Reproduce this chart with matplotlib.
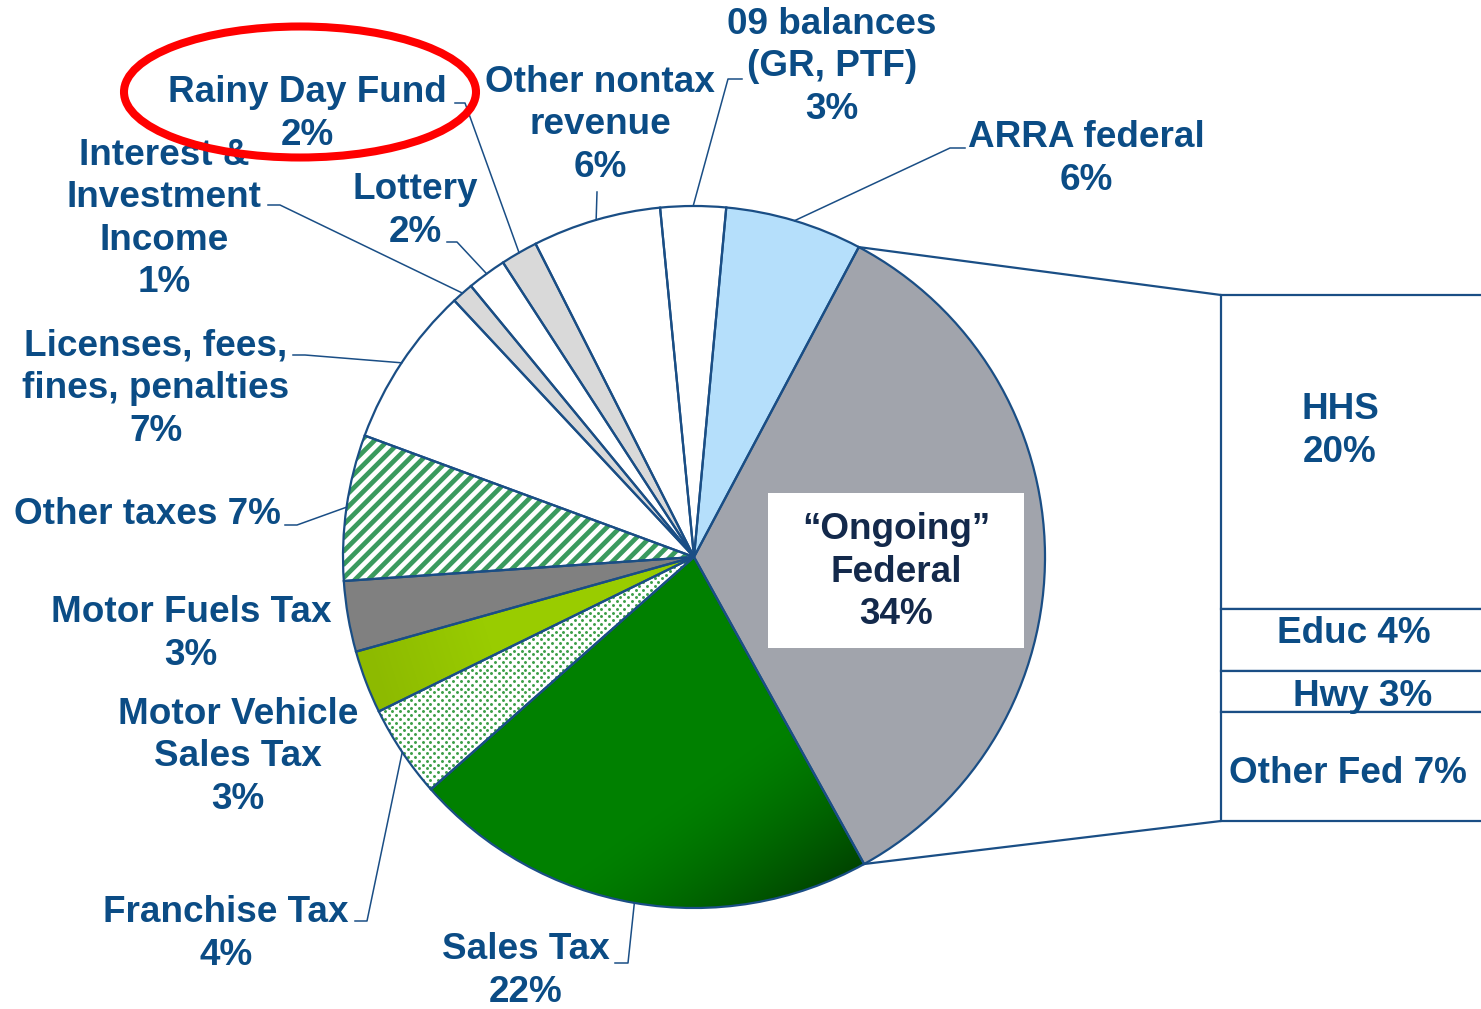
import numpy as np
import matplotlib.pyplot as plt
from matplotlib.patches import Ellipse, Rectangle
from matplotlib.collections import LineCollection
from matplotlib.colors import to_rgb

plt.rcParams['font.family'] = ['Liberation Sans', 'DejaVu Sans']
plt.rcParams['font.weight'] = 'bold'

# revenue sources (percent of total), clockwise from "Ongoing" Federal
sources = ['\u201cOngoing\u201d\nFederal', 'Sales Tax', 'Franchise Tax', 'Motor Vehicle\nSales Tax',
           'Motor Fuels Tax', 'Other taxes', 'Licenses, fees,\nfines, penalties',
           'Interest &\nInvestment\nIncome', 'Lottery', 'Rainy Day Fund', 'Other nontax\nrevenue',
           '09 balances\n(GR, PTF)', 'ARRA federal']
shares = [34.1, 21.5, 4.25, 2.9, 3.25, 6.7, 7.4, 1.0, 1.8, 1.7, 5.9, 3.0, 6.3]

# breakdown of the ongoing federal slice
fed_parts = ['HHS', 'Educ', 'Hwy', 'Other Fed']
fed_shares = [20.3, 4.0, 2.65, 7.05]

TEXT = '#0B4C85'
EDGE = '#1A4E85'
FS = 26.6
LS = 1.28
colors = ['#A1A4AC', '#008000', 'white', '#99CC00', '#808080', 'white', 'white',
          '#D9D9D9', 'white', '#D9D9D9', 'white', 'white', '#B5DFFB']

CX, CY, R = 694, 557, 351
W, H = 1481, 1009

fig = plt.figure(figsize=(W / 100, H / 100), dpi=100)
ax = fig.add_axes([0, 0, 1, 1])

wedges, _ = ax.pie(shares, colors=colors, center=(CX, CY), radius=R, startangle=-62.0,
                   counterclock=True, wedgeprops=dict(linewidth=0, zorder=1))


def shade(w, c0, c1, direction, s0, s1, power=1.3):
    yy, xx = np.mgrid[CY - R:CY + R:1.0, CX - R:CX + R:1.0]
    s = (xx - CX) * direction[0] + (yy - CY) * direction[1]
    t = np.clip((s - s0) / (s1 - s0), 0, 1)[..., None] ** power
    img = np.array(to_rgb(c0)) * (1 - t) + np.array(to_rgb(c1)) * t
    im = ax.imshow(img, extent=(CX - R, CX + R, CY + R, CY - R), origin='upper',
                   interpolation='bilinear', aspect='auto', zorder=1.5)
    im.set_clip_path(w)


# sales tax: dark toward the lower right
shade(wedges[1], '#008000', '#004000', (0.57, 0.82), 190, 355, power=1.4)
# motor vehicle: slightly darker on the outside
shade(wedges[3], '#99CC00', '#8DBA00', (-0.95, 0.3), 220, 340, power=1.0)

# other taxes: green diagonal stripes
period = 13.3
segs = []
for c in np.arange(CX + CY - 2 * R, CX + CY + 2 * R, period):
    segs.append([(CX - R, c - (CX - R)), (CX + R, c - (CX + R))])
stripes = LineCollection(segs, colors='#3A9A5E', linewidths=3.4, zorder=1.6)
ax.add_collection(stripes)
stripes.set_clip_path(wedges[5])

# franchise tax: green dots
gx, gy = [], []
for j, y in enumerate(np.arange(CY - R, CY + R, 3.8)):
    xs = np.arange(CX - R + (j % 2) * 3.8, CX + R, 7.6)
    gx.extend(xs)
    gy.extend([y] * len(xs))
dots = ax.scatter(gx, gy, s=4.5, c='#3C9F48', linewidths=0, zorder=1.6)
dots.set_clip_path(wedges[2])

# slice outlines on top
ax.pie(shares, center=(CX, CY), radius=R, startangle=-62.0, counterclock=True,
       wedgeprops=dict(fill=False, edgecolor=EDGE, linewidth=1.6, zorder=2))


def edge_pt(w):
    th = np.deg2rad((w.theta1 + w.theta2) / 2)
    return CX + R * np.cos(th), CY + R * np.sin(th)


# label layout: centre of text block, separator, leader start points
layout = {
    1: ((526, 971), '\n', [(615, 963), (628, 963)]),
    2: ((226, 934), '\n', [(355, 921), (367, 921)]),
    3: ((238, 757), '\n', None),
    4: ((191, 634), '\n', None),
    5: ((147, 514), ' ', [(285, 525), (297, 525)]),
    6: ((156, 389), '\n', [(293, 355), (305, 355)]),
    7: ((164, 219), '\n', [(268, 205), (280, 205)]),
    8: ((415, 211), '\n', [(447, 242), (457, 242)]),
    9: ((307, 114), '\n', [(455, 103), (465, 103)]),
    10: ((600, 125), '\n', [(597, 192)]),
    11: ((832, 67), '\n', [(742, 79), (728, 79)]),
    12: ((1086, 159), '\n', [(965, 148), (950, 148)]),
}
for i, ((tx, ty), sep, lead) in layout.items():
    ax.text(tx, ty, f'{sources[i]}{sep}{round(shares[i])}%', ha='center', va='center',
            fontsize=FS, color=TEXT, linespacing=LS, zorder=4)
    if lead:
        pts = lead + [edge_pt(wedges[i])]
        ax.plot([p[0] for p in pts], [p[1] for p in pts], color=EDGE, lw=1.1, zorder=3)

# federal label box
ax.add_patch(Rectangle((768, 493), 256, 155, facecolor='white', edgecolor='none', zorder=3))
ax.text(896, 572, f'{sources[0]}\n{round(shares[0])}%', ha='center', va='center',
        fontsize=FS, color='#13294B', linespacing=LS, zorder=4)

# bar of pie for the federal slice
BAR_X, BAR_TOP, BAR_H = 1221, 295, 526
scale = BAR_H / sum(fed_shares)
heights = np.array(fed_shares) * scale
bottoms = BAR_TOP + np.concatenate([[0], np.cumsum(heights)[:-1]])
ax.bar(BAR_X, heights, width=330, bottom=bottoms, align='edge', color='white',
       edgecolor=EDGE, linewidth=1.6, zorder=2)
fed_x = [1340, 1354, 1363, 1348]
fed_dy = [-21, -6, 5, 7]
for k in range(len(fed_parts)):
    label = f'{fed_parts[k]}\n{round(fed_shares[k])}%' if k == 0 else f'{fed_parts[k]} {round(fed_shares[k])}%'
    ax.text(fed_x[k], bottoms[k] + heights[k] / 2 + fed_dy[k], label, ha='center', va='center',
            fontsize=FS, color=TEXT, linespacing=LS, zorder=4)

# connectors from the federal slice to the bar
fw = wedges[0]
for th, by in [(fw.theta1, BAR_TOP), (fw.theta2, BAR_TOP + BAR_H)]:
    t = np.deg2rad(th)
    ax.plot([CX + R * np.cos(t), BAR_X], [CY + R * np.sin(t), by], color=EDGE, lw=1.6, zorder=2)

# highlight
ax.add_patch(Ellipse((300, 92), 352, 131, fill=False, edgecolor='#FF0000', lw=5.8, zorder=5))

ax.set_xlim(0, W)
ax.set_ylim(H, 0)
ax.set_aspect('auto')
ax.axis('off')
fig.savefig('out.png', dpi=100, facecolor='white')
